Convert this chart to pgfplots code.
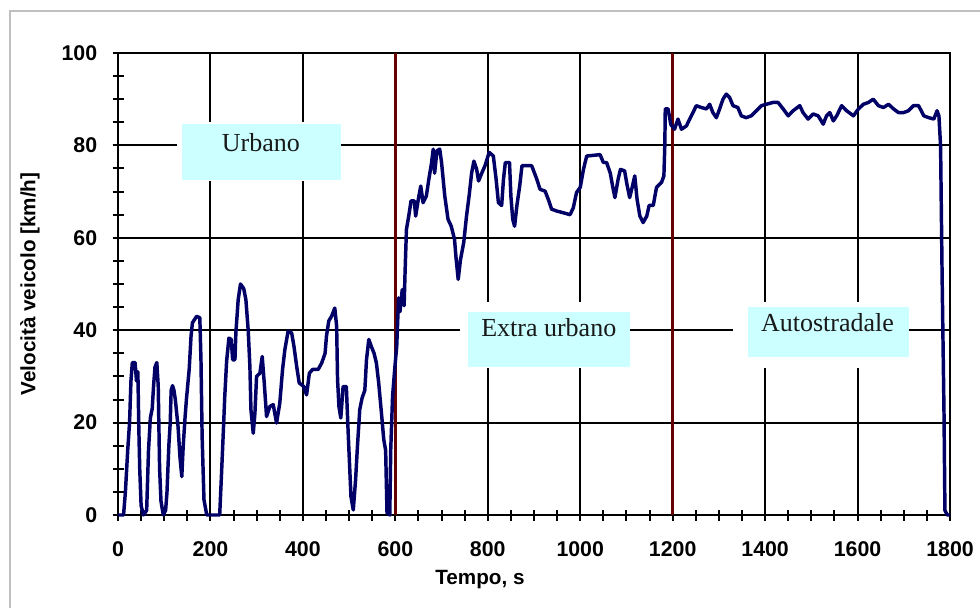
\documentclass[border=0pt]{standalone}
\usepackage{fontspec}
\setmainfont{Liberation Sans}
\newfontfamily\timesfont{Liberation Serif}
\usepackage{pgfplots}
\pgfplotsset{compat=1.18}
\definecolor{navy}{HTML}{000066}
\definecolor{maroon}{HTML}{660000}
\definecolor{boxcyan}{HTML}{CCFFFF}
\definecolor{framegray}{HTML}{C0C0C0}
\begin{document}
\begin{tikzpicture}
\useasboundingbox (0,0) rectangle (735pt,455.25pt);
\draw[framegray, line width=1.5pt] (7.5pt,-10pt) -- (7.5pt,447pt) -- (745pt,447pt);
\begin{axis}[
  at={(88.5pt,69pt)}, anchor=south west,
  scale only axis, width=624pt, height=346.5pt,
  xmin=0, xmax=1800, ymin=0, ymax=100,
  xtick={0,200,...,1800}, ytick={0,20,...,100},
  minor xtick={50,100,...,1750}, minor ytick={5,10,...,95},
  xtick pos=bottom, ytick pos=left,
  grid=major,
  major grid style={black, line width=1.5pt},
  tick align=center, major tick length=8.25pt, minor tick length=8.25pt,
  tick style={black, line width=1.5pt},
  axis line style={black, line width=1.5pt},
  ticklabel style={font=\fontsize{16}{18}\selectfont\bfseries},
  /pgf/number format/assume math mode=true,
  /pgf/number format/1000 sep={},
  xticklabel style={anchor=north, yshift=-12pt},
  yticklabel style={anchor=east, xshift=-8pt},
  xlabel={Tempo, s},
  ylabel={Velocità veicolo [km/h]},
  label style={font=\fontsize{15.5}{18}\selectfont\bfseries},
  xlabel style={at={(axis description cs:0.435,-0.1407)}, anchor=center},
  ylabel style={at={(axis description cs:-0.1058,0.5)}, anchor=center, rotate=0},
  clip=false,
]
\addplot[maroon, line width=2.4pt] coordinates {(600,0) (600,100)};
\addplot[maroon, line width=2.4pt] coordinates {(1200,0) (1200,100)};
\addplot[navy, line width=2.6pt, line join=round] coordinates {
(0,0) (12,0) (16,5) (21,14) (25,20) (28,29) (31,33) (37,33) (40,29) (43,31) (45,19) (47,10) (50,2) (55,0) (62,1)
(66,14) (70,21) (74,23) (77,28) (80,32) (84,33) (87,28) (90,10) (93,3) (98,0) (103,1) (106,5) (110,15) (113,20)
(115,27) (118,28) (121,27) (124,25) (130,19) (134,12.6) (138,8.3) (141,14.8) (145,21) (148,25) (154,31.5) (158,38.7)
(161,41.6) (170,43) (177,42.7) (179.5,33.6) (182,17) (186,3.3) (192,0) (220,0) (224,9) (228,18.4) (231,25.7)
(235,33.3) (240,38.3) (245,38) (248,33.6) (253,33.6) (255,39.4) (260,46.6) (265,50) (272,49) (276.7,46.6)
(281.8,39.8) (285.4,32) (287.6,22.8) (292.6,17.7) (296.2,22) (299.8,30) (307,30.7) (312,34.3) (316.4,28.6)
(321.4,21.3) (328.6,23.5) (335.8,23.9) (343,19.9) (350,24.2) (356,31.5) (361,35.8) (368,39.8) (375.7,39.4)
(380.7,36.5) (386.5,32.2) (392,28.6) (402,27.8) (408,26) (414,30.7) (421,31.5) (433,31.5) (440.7,32.9) (448,35)
(451,38.7) (456,42) (462,43) (469,44.8) (473,40.9) (475,29.3) (478,23.5) (482,21) (487,27.8) (494,27.8) (498,17.7)
(504,4) (509,1.1) (514,7.6) (518,14.8) (523,22.8) (528,25.3) (534,27) (537.6,33.6) (542.6,38) (548,36.5) (554,35)
(559,32.9) (564,28.6) (570,22) (575,16.3) (579,14) (582,0.4) (588,0) (590,14) (594,25.7) (599,32) (603,36.5)
(607,47) (610,44) (615,48.8) (619,45.3) (621,52.4) (624,61.8) (629,64.7) (634,68) (641,68) (644,64.7) (650,68.5)
(655,71.2) (660,67.6) (667,69) (673,73) (678,76) (682,79.2) (685,74) (690,78.8) (696,79.2) (700,76.3) (707,69)
(714,64) (721,62.5) (728,59.7) (731,56) (736,51) (741,55.3) (748,59) (754,64.7) (760,69.4) (765,74) (770,76.6)
(776,74.8) (780,72.3) (787,74) (794,75.6) (803,78.5) (812,77.7) (818,72.7) (823,67.6) (830,67) (834,72.7)
(838,76.3) (847,76.3) (850,69) (854,64) (858,62.5) (863,67) (869,71.2) (874,75.6) (895,75.6) (906,72.7) (913,70.5)
(924,70.1) (931,68.3) (938,66.2) (949,65.8) (964,65.4) (978,65) (985,66.5) (992,69.8) (1000,70.9) (1007,74.8)
(1014,77.7) (1043,78) (1050,76.3) (1057,76.3) (1065,74) (1070,71.2) (1075,68.7) (1082,72.7) (1087,74.8)
(1096,74.5) (1101,71.6) (1107,68.7) (1113,71.2) (1118,73.4) (1123,68.3) (1129,64.7) (1136,63.3) (1144,64.7)
(1149,67) (1158,67) (1165,70.9) (1176,72) (1181,73.4) (1183,80) (1184,87.9) (1190,87.9) (1196,84.5) (1204,83.5)
(1211.5,85.7) (1219,83.5) (1229.6,84.2) (1236.8,85.7) (1244,87.1) (1251,88.6) (1262,88.2) (1273,87.9) (1280,88.9)
(1287,87.1) (1294.5,86) (1301.6,87.9) (1308.8,90) (1316,91.1) (1323,90.4) (1330.5,88.6) (1341,88.2) (1348.5,86.4)
(1359,86) (1370,86.4) (1381,87.5) (1392,88.6) (1402.7,88.9) (1417,89.3) (1428,89.3) (1439,87.9) (1450,86.4)
(1460.5,87.5) (1475,88.6) (1482,87.1) (1493,85.7) (1504,86.8) (1514.8,86.4) (1525.6,84.6) (1532.9,86.4) (1540,87.1)
(1547.6,85.3) (1554.8,86.4) (1565.6,88.6) (1576.4,87.5) (1591,86.4) (1602,87.9) (1612.6,88.9) (1623.5,89.3)
(1634,90) (1645,88.6) (1656,88.2) (1667,88.9) (1677.8,87.9) (1688.6,87.1) (1699.5,87.1) (1710,87.5) (1721,88.6)
(1732,88.6) (1743.4,86.4) (1754,86) (1765,85.7) (1772,87.5) (1776,86.4) (1779.6,79.9) (1783,51) (1787,22.1)
(1789,1) (1794,0) (1800,0)
};
\fill[white] (axis cs:127.6,72.2) rectangle (axis cs:482,85);
\fill[boxcyan] (axis cs:138.4,72.45) rectangle (axis cs:482,84.6);
\node[font=\timesfont\fontsize{19.5}{22}\selectfont, text=black!90] at (axis cs:309,80.7) {Urbano};
\fill[white] (axis cs:739.5,31.9) rectangle (axis cs:1107,46);
\fill[boxcyan] (axis cs:756.8,32.1) rectangle (axis cs:1107,44);
\node[font=\timesfont\fontsize{19.5}{22}\selectfont, text=black!90] at (axis cs:932,40.6) {Extra urbano};
\fill[white] (axis cs:1329.7,31.9) rectangle (axis cs:1710.3,46);
\fill[boxcyan] (axis cs:1362,34.3) rectangle (axis cs:1710.3,45.1);
\node[font=\timesfont\fontsize{19.5}{22}\selectfont, text=black!90] at (axis cs:1535,41.6) {Autostradale};
\end{axis}
\end{tikzpicture}
\end{document}
